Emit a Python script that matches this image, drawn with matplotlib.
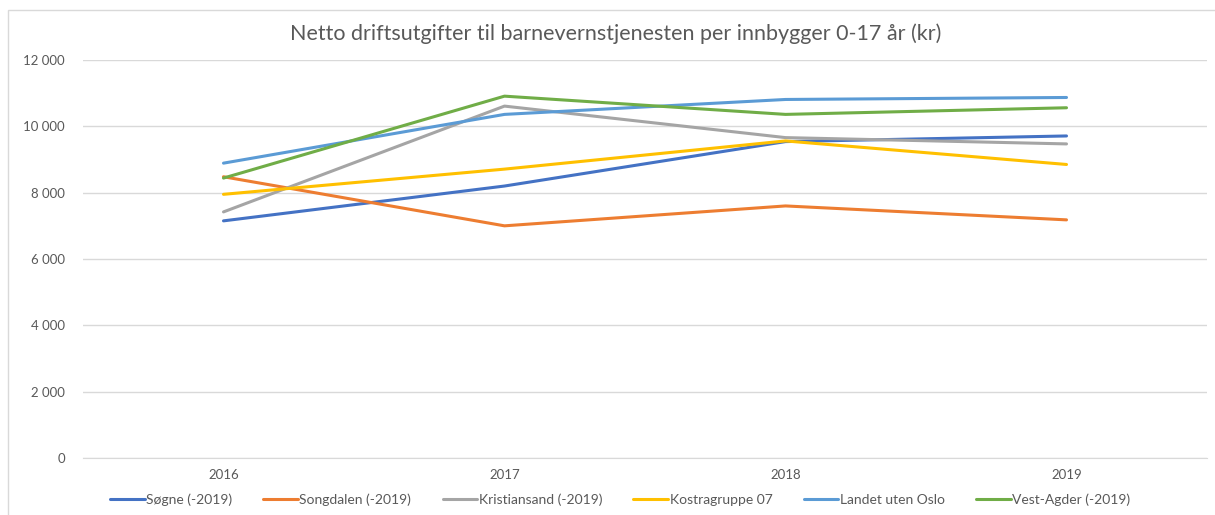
import matplotlib
matplotlib.use('Agg')
import matplotlib.pyplot as plt
from matplotlib.ticker import FuncFormatter, MultipleLocator
from matplotlib.patches import Rectangle

plt.rcParams['font.family'] = ['Lato', 'DejaVu Sans']

years = ['2016', '2017', '2018', '2019']
series_names = ['Søgne (-2019)', 'Songdalen (-2019)', 'Kristiansand (-2019)',
                'Kostragruppe 07', 'Landet uten Oslo', 'Vest-Agder (-2019)']
sogne = [7150, 8200, 9540, 9710]
songdalen = [8480, 7000, 7600, 7180]
kristiansand = [7420, 10610, 9660, 9470]
kostra07 = [7950, 8710, 9560, 8850]
landet_uten_oslo = [8890, 10360, 10810, 10870]
vest_agder = [8440, 10910, 10360, 10560]
colors = ['#4472C4', '#ED7D31', '#A5A5A5', '#FFC000', '#5B9BD5', '#70AD47']

text_color = '#595959'
grid_color = '#D9D9D9'

fig = plt.figure(figsize=(12.15, 5.15), dpi=100)
ax = fig.add_axes([83 / 1215, 1 - 458 / 515, (1207 - 83) / 1215, (458 - 60) / 515])

# chart border
fig.patches.append(Rectangle((8 / 1215, -0.01), 1.02, 1 - 10 / 515 + 0.01,
                             transform=fig.transFigure, fill=False,
                             edgecolor=grid_color, linewidth=1))

all_series = [sogne, songdalen, kristiansand, kostra07, landet_uten_oslo, vest_agder]
x = range(len(years))
for name, vals, c in zip(series_names, all_series, colors):
    ax.plot(x, vals, color=c, linewidth=2.2, label=name, solid_capstyle='round')

ax.set_xlim(-0.5, 3.5)
ax.set_ylim(0, 12000)
ax.yaxis.set_major_locator(MultipleLocator(2000))
ax.yaxis.set_major_formatter(FuncFormatter(lambda v, p: f'{int(v):,}'.replace(',', ' ')))
ax.set_xticks(list(x))
ax.set_xticklabels(years)
ax.tick_params(axis='both', length=0, labelsize=9.5, colors=text_color)
ax.tick_params(axis='y', pad=13)
ax.tick_params(axis='x', pad=8)

ax.grid(axis='y', color=grid_color, linewidth=1)
ax.set_axisbelow(True)
for s in ['top', 'right', 'left']:
    ax.spines[s].set_visible(False)
ax.spines['bottom'].set_color(grid_color)

fig.text(616 / 1215, 1 - 34 / 515, 'Netto driftsutgifter til barnevernstjenesten per innbygger 0-17 år (kr)',
         ha='center', va='center', fontsize=15.5, color=text_color)

fig.legend(loc='center', bbox_to_anchor=(620 / 1215, 1 - 500 / 515), ncol=6, frameon=False,
           fontsize=10, handlelength=2.5, handletextpad=0.1, columnspacing=2.25,
           labelcolor=text_color)

fig.savefig('out.png', dpi=100)
